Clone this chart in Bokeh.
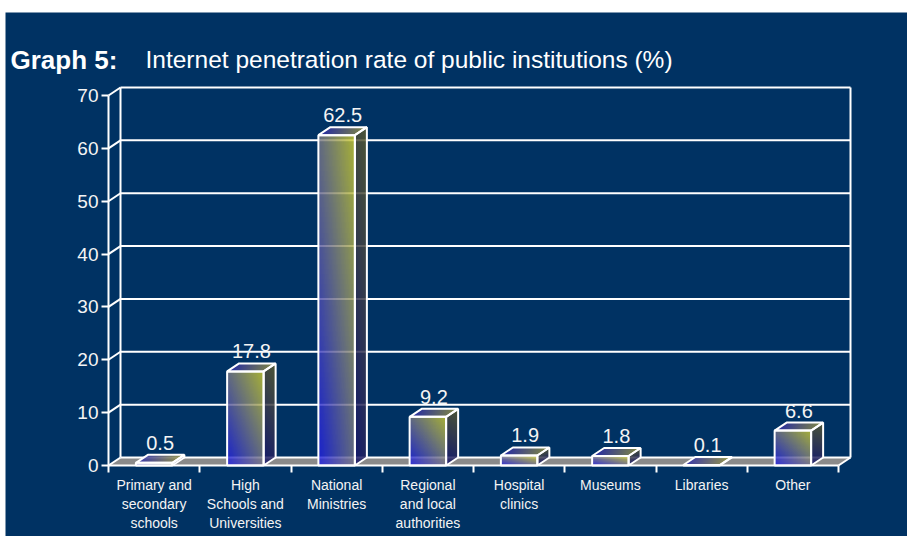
import numpy as np
from bokeh.plotting import figure
from bokeh.layouts import column, row
from bokeh.models import Range1d, FixedTicker, Label, Spacer
from bokeh.core.properties import value
from bokeh.embed import file_html
from bokeh.resources import INLINE

# ---------------- data ----------------
categories = [
    "Primary and\nsecondary\nschools",
    "High\nSchools and\nUniversities",
    "National\nMinistries",
    "Regional\nand local\nauthorities",
    "Hospital\nclinics",
    "Museums",
    "Libraries",
    "Other",
]
values = [0.5, 17.8, 62.5, 9.2, 1.9, 1.8, 0.1, 6.6]
y_ticks = [0, 10, 20, 30, 40, 50, 60, 70]
title_bold = "Graph 5:"
title_text = "Internet penetration rate of public institutions (%)"

# ---------------- style / layout ----------------
BG = "#003263"
FONT = "Liberation Sans"
TXT = "#f4f4f4"
FIG_W, FIG_H = 902, 524          # placed at page (5, 12)
PX_X = 91.25                     # pixels per category
PX_Y = 370 / 70                  # pixels per percent
ORIGIN_X = 103                   # figure pixel where x = 0 (front y axis)
ORIGIN_Y = 453                   # figure pixel (from top) where y = 0 (floor front edge)

X_START = -ORIGIN_X / PX_X
X_END = (FIG_W - ORIGIN_X) / PX_X
Y_START = -(FIG_H - ORIGIN_Y) / PX_Y
Y_END = ORIGIN_Y / PX_Y

DX = 12 / PX_X    # depth offset of the 3D effect
DY = 8 / PX_Y
HW = 0.2          # half bar width (category units)
n = len(categories)
YMAX = y_ticks[-1]


def fx(px):  # figure pixel x -> data x
    return (px - ORIGIN_X) / PX_X


def fy(py):  # figure pixel y (from top) -> data y
    return (ORIGIN_Y - py) / PX_Y


p = figure(width=FIG_W, height=FIG_H, x_range=Range1d(X_START, X_END), y_range=Range1d(Y_START, Y_END),
           output_backend="svg", toolbar_location=None,
           min_border_left=0, min_border_right=0, min_border_top=0, min_border_bottom=0,
           background_fill_color=BG, border_fill_color=BG, outline_line_color=None)
p.xgrid.grid_line_color = None
p.ygrid.grid_line_color = None

# y axis, drawn at the front edge (x = 0)
p.yaxis.fixed_location = 0
p.yaxis.ticker = FixedTicker(ticks=y_ticks)
p.yaxis.bounds = (0, YMAX)
p.yaxis.axis_line_color = "white"
p.yaxis.axis_line_width = 2
p.yaxis.major_tick_line_color = "white"
p.yaxis.major_tick_line_width = 2
p.yaxis.major_tick_out = 7
p.yaxis.major_tick_in = 0
p.yaxis.minor_tick_line_color = None
p.yaxis.major_label_standoff = 3
p.yaxis.major_label_text_font = FONT
p.yaxis.major_label_text_font_size = "19px"
p.yaxis.major_label_text_color = TXT

# x axis at y = 0: labels at category centres, tick marks at category boundaries
centers = [i + 0.5 for i in range(n)]
p.xaxis.fixed_location = 0
p.xaxis.ticker = FixedTicker(ticks=centers, minor_ticks=list(range(n + 1)))
p.xaxis.major_label_overrides = {c: lab for c, lab in zip(centers, categories)}
p.xaxis.bounds = (0, n)
p.xaxis.axis_line_color = "white"
p.xaxis.axis_line_width = 2
p.xaxis.major_tick_line_color = None
p.xaxis.major_tick_out = 7
p.xaxis.major_tick_in = 0
p.xaxis.minor_tick_line_color = "white"
p.xaxis.minor_tick_line_width = 2
p.xaxis.minor_tick_out = 7
p.xaxis.minor_tick_in = 0
p.xaxis.major_label_standoff = 4
p.xaxis.major_label_text_font = FONT
p.xaxis.major_label_text_font_size = "14px"
p.xaxis.major_label_text_line_height = 1.2
p.xaxis.major_label_text_color = TXT
p.xaxis.major_label_orientation = "horizontal"

# floor
p.patch([0, n, n + DX, DX], [0, 0, DY, DY], fill_color="#8a8a8a", line_color=None)

# walls / grid
p.segment(x0=[0] * len(y_ticks), y0=y_ticks, x1=[DX] * len(y_ticks),
          y1=[v + DY for v in y_ticks], line_color="white", line_width=2)
p.segment(x0=[DX] * len(y_ticks), y0=[v + DY for v in y_ticks],
          x1=[n + DX] * len(y_ticks), y1=[v + DY for v in y_ticks],
          line_color="white", line_width=2)
p.segment(x0=[DX, n + DX], y0=[DY, DY], x1=[DX, n + DX], y1=[YMAX + DY] * 2,
          line_color="white", line_width=2)
p.segment(x0=[n], y0=[0], x1=[n + DX], y1=[DY], line_color="white", line_width=2)

FRONT_A, FRONT_B = np.array([28, 28, 228.0]), np.array([208, 208, 42.0])
SIDE_A, SIDE_B = np.array([22, 22, 110.0]), np.array([92, 94, 45.0])
TOP_A, TOP_B = np.array([40, 40, 178.0]), np.array([155, 155, 60.0])


def pack(rgb, alpha):
    img = np.zeros(rgb.shape[:2] + (4,), dtype=np.uint8)
    img[..., :3] = np.clip(rgb, 0, 255).astype(np.uint8)
    img[..., 3] = np.clip(alpha * 255, 0, 255).astype(np.uint8)
    return img.view(np.uint32).reshape(rgb.shape[:2])


outline_xs, outline_ys = [], []
for i, v in enumerate(values):
    c = i + 0.5
    x0, x1 = c - HW, c + HW
    # front face: diagonal gradient
    R, C = 64, 64
    u = (np.arange(C) + 0.5) / C
    w = (np.arange(R) + 0.5) / R
    g = (u[None, :] + w[:, None]) / 2
    rgb = FRONT_A + (FRONT_B - FRONT_A) * g[..., None]
    p.image_rgba(image=[pack(rgb, np.full((R, C), 0.82))], x=x0, y=0, dw=x1 - x0, dh=v)

    # side face (parallelogram inside its bounding box)
    R = max(24, int((v + DY) * PX_Y * 2))
    C = 24
    u = (np.arange(C) + 0.5) / C
    yy = (np.arange(R) + 0.5) / R * (v + DY)
    ph = (v + DY) / R
    lower = u[None, :] * DY
    upper = v + u[None, :] * DY
    cov = np.clip((yy[:, None] - lower) / ph + 0.5, 0, 1) * np.clip((upper - yy[:, None]) / ph + 0.5, 0, 1)
    ww = np.clip((yy[:, None] - lower) / max(v, 1e-6), 0, 1)
    g = 0.25 * u[None, :] + 0.75 * ww
    rgb = SIDE_A + (SIDE_B - SIDE_A) * g[..., None]
    p.image_rgba(image=[pack(rgb, cov * 0.85)], x=x1, y=0, dw=DX, dh=v + DY)

    # top face
    R, C = 24, 96
    s = (np.arange(R) + 0.5) / R
    xx = x0 + (np.arange(C) + 0.5) / C * (x1 + DX - x0)
    pw = (x1 + DX - x0) / C
    left = x0 + s[:, None] * DX
    right = x1 + s[:, None] * DX
    cov = np.clip((xx[None, :] - left) / pw + 0.5, 0, 1) * np.clip((right - xx[None, :]) / pw + 0.5, 0, 1)
    uu = np.clip((xx[None, :] - left) / (x1 - x0), 0, 1)
    g = 0.8 * uu + 0.2 * s[:, None]
    rgb = TOP_A + (TOP_B - TOP_A) * g[..., None]
    p.image_rgba(image=[pack(rgb, cov * 0.85)], x=x0, y=v, dw=x1 + DX - x0, dh=DY)

    outline_xs += [[x0, x1, x1, x0], [x0, x1, x1 + DX, x0 + DX], [x1, x1 + DX, x1 + DX, x1]]
    outline_ys += [[0, 0, v, v], [v, v, v + DY, v + DY], [0, DY, v + DY, v]]

p.patches(outline_xs, outline_ys, fill_alpha=0, line_color="white", line_width=2)

# value labels
p.text(x=[i + 0.5 + DX / 2 for i in range(n)], y=[v + DY + 12 / PX_Y for v in values],
       text=[f"{v:.1f}" for v in values], text_align="center", text_baseline="alphabetic",
       text_font=value(FONT), text_font_size="20px", text_color=TXT)

# title (page baseline ~59 -> figure y 47)
p.add_layout(Label(x=fx(5), y=fy(47), text=title_bold, text_font=FONT, text_font_size="26px",
                   text_font_style="bold", text_color="white", text_baseline="alphabetic"))
p.add_layout(Label(x=fx(140), y=fy(47), text=title_text, text_font=FONT, text_font_size="24.5px",
                   text_color="white", text_baseline="alphabetic"))

layout = column(Spacer(width=907, height=12),
                row(Spacer(width=5, height=FIG_H), p))

open("out.html", "w").write(file_html(layout, INLINE))
